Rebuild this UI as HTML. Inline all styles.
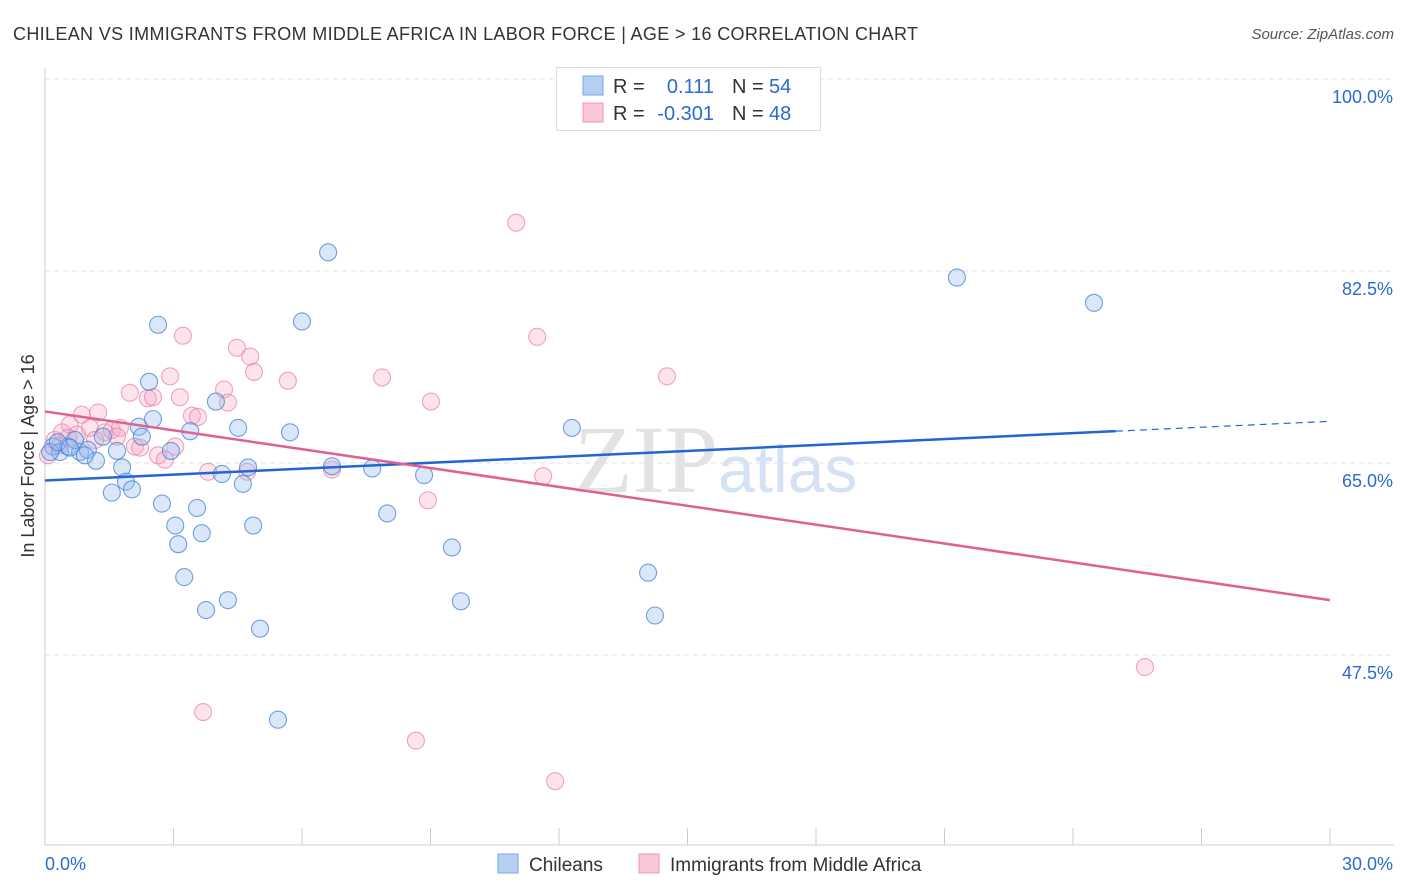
<!DOCTYPE html>
<html><head><meta charset="utf-8"><style>
body{margin:0;background:#fff;font-family:"Liberation Sans",sans-serif;}
svg{display:block}
</style></head><body>
<svg id="chart" width="1406" height="892">
<text x="13" y="40" font-size="18" fill="#333" textLength="905">CHILEAN VS IMMIGRANTS FROM MIDDLE AFRICA IN LABOR FORCE | AGE &gt; 16 CORRELATION CHART</text>
<text x="1394" y="39" font-size="15" fill="#555" font-style="italic" text-anchor="end">Source: ZipAtlas.com</text>
<text x="718" y="492" font-size="96" fill="#e2e2e2" font-family="Liberation Serif,serif" text-anchor="end">ZIP</text>
<text x="718" y="492" font-size="66" fill="#d4e2f4">atlas</text>
<g id="grid"></g>
<g id="axes"></g>
<g id="marks"></g>
<text transform="translate(34,456) rotate(-90)" font-size="18" fill="#333" text-anchor="middle">In Labor Force | Age &gt; 16</text>
<g>
<rect x="556.5" y="67.5" width="264" height="63" fill="#fff" stroke="#ddd"/>
<rect x="583" y="76" width="20" height="19" fill="#b5cff3" stroke="#7aa5e4"/>
<rect x="583" y="103" width="20" height="19" fill="#f9c6d6" stroke="#ee94b2"/>
<text x="613" y="93" font-size="20" fill="#333">R =</text>
<text x="714" y="93" font-size="20" fill="#2b6bd1" text-anchor="end">0.111</text>
<text x="732" y="93" font-size="20" fill="#333">N =</text>
<text x="769" y="93" font-size="20" fill="#2b6bd1">54</text>
<text x="613" y="120" font-size="20" fill="#333">R =</text>
<text x="714" y="120" font-size="20" fill="#2b6bd1" text-anchor="end">-0.301</text>
<text x="732" y="120" font-size="20" fill="#333">N =</text>
<text x="769" y="120" font-size="20" fill="#2b6bd1">48</text>
</g>
<g>
<rect x="498" y="854" width="20" height="19" fill="#b5cff3" stroke="#7aa5e4"/>
<text x="529" y="871" font-size="19" fill="#333">Chileans</text>
<rect x="639" y="854" width="20" height="19" fill="#f9c6d6" stroke="#ee94b2"/>
<text x="670" y="871" font-size="19" fill="#333">Immigrants from Middle Africa</text>
</g>
</svg>
<script>
const xTicks=[0,30];
const yTicks=[100,82.5,65,47.5];
const blueX=[0.19,0.35,0.54,0.82,1.00,1.19,1.35,1.56,1.68,1.80,1.89,2.03,2.19,2.26,2.43,2.52,2.64,2.73,2.94,3.04,3.11,3.25,3.39,3.55,3.66,3.76,3.99,4.13,4.27,4.51,4.62,4.74,4.86,5.02,5.44,5.72,6.00,6.61,6.70,7.64,7.99,8.85,9.50,9.71,12.30,14.08,14.24,21.29,24.49,0.12,0.30,0.70,0.93,0.58];
const blueY=[66.5,66.0,66.5,66.0,66.2,65.2,67.4,62.3,66.1,64.6,63.3,62.6,68.3,67.4,72.4,69.0,77.6,61.3,66.1,59.3,57.6,54.6,67.9,60.9,58.6,51.6,70.6,64.0,52.5,68.2,63.1,64.6,59.3,49.9,41.6,67.8,77.9,84.2,64.7,64.5,60.4,63.9,57.3,52.4,68.2,55.0,51.1,81.9,79.6,66.0,66.9,67.1,65.7,66.4];
const pinkX=[0.07,0.23,0.40,0.58,0.75,0.86,1.05,1.24,1.40,1.56,1.75,1.98,2.10,2.22,2.40,2.52,2.64,2.80,2.92,3.04,3.15,3.22,3.43,3.57,3.69,3.81,4.18,4.27,4.48,4.72,4.79,4.88,5.67,6.70,7.87,8.66,8.94,9.01,11.00,11.49,11.63,11.91,14.52,25.68,0.35,1.17,1.68,0.54];
const pinkY=[65.7,67.1,67.8,68.5,67.6,69.4,68.2,69.6,67.8,68.0,68.2,71.4,66.5,66.4,70.9,71.0,65.7,65.3,72.9,66.5,71.0,76.6,69.3,69.2,42.3,64.2,71.7,70.5,75.5,64.2,74.7,73.3,72.5,64.4,72.8,39.7,61.6,70.6,86.9,76.5,63.8,36.0,72.9,46.4,66.6,67.1,67.4,67.3];
const blueTrend=[63.4,68.8];
const pinkTrend=[69.7,52.5];
const blueSolidEnd=25.0;

const NS="http://www.w3.org/2000/svg";
const X=v=>45+v/30*1285;
const Y=v=>79+(100-v)*192/17.5;
function mk(tag,attrs,parent){const e=document.createElementNS(NS,tag);for(const k in attrs)e.setAttribute(k,attrs[k]);document.getElementById(parent).appendChild(e);return e;}
yTicks.forEach(t=>{
 const l=mk('line',{x1:45,x2:1394,y1:Y(t),y2:Y(t),stroke:'#e2e2e2','stroke-dasharray':'5,4'},'grid');
 
 
 const tx=mk('text',{x:1393,y:Y(t)+24,'font-size':18,fill:'#2b6bd1','text-anchor':'end'},'grid');
 tx.textContent=t.toFixed(1)+'%';
 
 
});
mk('line',{x1:45,x2:45,y1:68,y2:845,stroke:'#ccc'},'axes');
mk('line',{x1:45,x2:1394,y1:845,y2:845,stroke:'#ccc'},'axes');
for(let i=0;i<=10;i++){const x=X(i*3);const t=mk('line',{x1:x,x2:x,y1:828,y2:845,stroke:'#ccc'},'axes');
 
 }
xTicks.forEach((t,i)=>{const tx=mk('text',{x:i==0?45:1393,y:870,'font-size':18,fill:'#2b6bd1','text-anchor':i==0?'start':'end'},'axes');
 tx.textContent=t.toFixed(1)+'%';
 
 });
function dots(xs,ys,fill,stroke,name){xs.forEach((x,i)=>{const c=mk('circle',{cx:X(x),cy:Y(ys[i]),r:8.5,fill:fill,stroke:stroke,'stroke-width':1.1},'marks');
 
 });}
dots(pinkX,pinkY,'rgba(246,168,195,0.32)','rgba(232,128,165,0.7)','immigrants-point');
dots(blueX,blueY,'rgba(150,188,238,0.36)','rgba(70,130,215,0.75)','chileans-point');
const bAt=x=>blueTrend[0]+(blueTrend[1]-blueTrend[0])*x/30;
let l=mk('line',{x1:X(0),y1:Y(bAt(0)),x2:X(blueSolidEnd),y2:Y(bAt(blueSolidEnd)),stroke:'#2466d0','stroke-width':2.5},'marks');


l=mk('line',{x1:X(blueSolidEnd),y1:Y(bAt(blueSolidEnd)),x2:X(30),y2:Y(bAt(30)),stroke:'#2466d0','stroke-width':1.2,'stroke-dasharray':'7,5'},'marks');


l=mk('line',{x1:X(0),y1:Y(pinkTrend[0]),x2:X(30),y2:Y(pinkTrend[1]),stroke:'#e0608e','stroke-width':2.5},'marks');


</script>
</body></html>
